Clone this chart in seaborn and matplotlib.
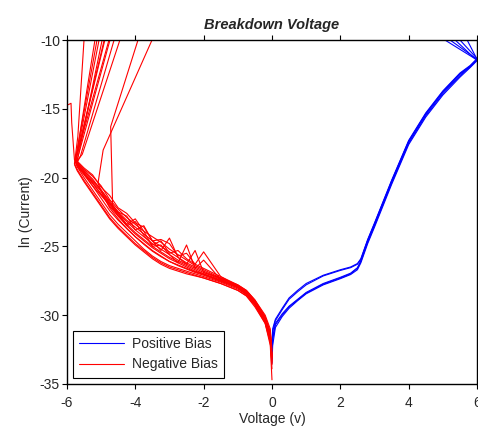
import numpy as np
import pandas as pd
import seaborn as sns
import matplotlib
matplotlib.use('Agg')
import matplotlib.pyplot as plt

# voltage grid of the negative sweep (V)
neg_v = [0, -0.05, -0.2, -0.5, -0.75, -1.0, -1.5, -2.0, -2.25, -2.5, -2.75, -3.0,
         -3.25, -3.5, -3.75, -4.0, -4.25, -4.5, -4.75, -5.0, -5.25, -5.5, -5.7]

# ln(current) of each negative trace on that grid
neg_i = [
    [-33.5, -31.8, -30.4, -29.2, -28.5, -28.1, -27.6, -27.2, -27.0, -26.8, -26.6, -26.4,
     -26.1, -25.7, -25.2, -24.6, -24.0, -23.4, -22.7, -21.8, -20.9, -20.0, -19.2],
    [-34.7, -32.2, -30.6, -29.3, -28.6, -28.2, -27.7, -27.3, -27.1, -26.9, -26.7, -26.5,
     -26.2, -25.8, -25.3, -24.8, -24.2, -23.6, -22.9, -22.0, -21.1, -20.2, -19.4],
    [-32.5, -31.0, -30.0, -28.9, -28.2, -27.8, -27.3, -26.7, -26.4, -26.0, -25.6, -25.2,
     -24.7, -24.3, -23.9, -23.4, -22.9, -22.3, -21.6, -20.6, -19.9, -19.4, -18.9],
    [-33.0, -31.4, -30.2, -29.0, -28.3, -27.9, -27.45, -27.0, -26.7, -26.4, -26.1, -25.8,
     -25.4, -25.0, -24.5, -24.0, -23.4, -22.8, -22.1, -21.2, -20.4, -19.7, -19.1],
    [-32.8, -31.2, -30.1, -28.9, -28.2, -27.8, -27.2, -26.6, -26.3, -25.5, -25.7, -24.8,
     -24.5, -24.6, -23.6, -23.3, -22.6, -22.2, -21.3, -20.7, -19.8, -19.3, -18.8],
    [-33.2, -31.5, -30.3, -29.0, -28.3, -27.9, -27.3, -26.9, -25.3, -26.3, -25.8, -24.4,
     -25.3, -24.6, -23.5, -23.8, -22.8, -22.5, -21.7, -20.9, -20.2, -19.5, -18.9],
    [-33.6, -31.9, -30.5, -29.2, -28.5, -28.0, -27.4, -26.0, -26.6, -24.9, -26.2, -25.6,
     -24.9, -25.0, -23.9, -23.0, -23.4, -22.6, -21.9, -21.2, -20.4, -19.7, -19.1],
    [-33.9, -32.0, -30.6, -29.4, -28.6, -28.2, -27.7, -27.3, -27.15, -27.0, -26.8, -26.6,
     -26.3, -25.9, -25.4, -24.9, -24.3, -23.7, -23.0, -22.1, -21.2, -20.3, -19.5],
    [-32.9, -31.3, -30.2, -28.95, -28.25, -27.85, -27.35, -26.8, -26.5, -26.2, -25.8, -25.4,
     -25.0, -24.6, -24.1, -23.6, -23.1, -22.5, -21.8, -20.9, -20.1, -19.5, -18.9],
    [-33.4, -31.6, -30.3, -29.1, -28.4, -28.0, -27.5, -27.0, -26.8, -26.5, -26.2, -25.9,
     -25.5, -25.1, -24.6, -24.1, -23.5, -22.8],
    [-33.1, -31.7, -30.5, -29.2, -28.5, -28.0, -27.5, -27.05, -26.85, -26.6, -26.35, -26.1,
     -25.75, -25.35, -24.85, -24.3, -23.7, -23.0, -22.2, -21.0],
    [-33.1, -31.5, -30.4, -29.1, -28.4, -28.0, -27.55, -27.1, -26.9, -26.65, -26.4, -26.1,
     -25.7, -25.3, -24.8, -24.3, -23.7, -23.1, -22.4, -21.5, -20.6, -19.7, -19.0],
    [-33.3, -31.6, -30.4, -29.1, -28.4, -27.9, -27.2, -25.4, -26.3, -25.9, -25.3, -25.5,
     -24.6, -24.9, -24.2, -23.2, -23.5, -22.7, -22.0, -21.3, -20.6, -19.8, -19.2],
    [-33.0, -31.4, -30.3, -29.0, -28.35, -27.95, -27.4, -26.9, -26.6, -26.3, -26.0, -25.6,
     -25.2, -24.8, -24.3, -23.8, -23.2, -22.6, -21.9, -21.0, -20.3, -19.6, -19.0],
]

# where each negative trace turns back up to the top (V, ln I)
neg_tail = [
    [(-5.76, -18.8), (-5.12, -10)],
    [(-5.78, -19.0), (-5.68, -17.0), (-5.5, -10)],
    [(-5.72, -18.5), (-4.77, -10)],
    [(-5.74, -18.7), (-4.91, -10)],
    [(-5.55, -18.3), (-4.45, -10)],
    [(-5.73, -18.5), (-5.18, -10)],
    [(-5.74, -18.7), (-4.89, -10)],
    [(-5.77, -19.1), (-5.06, -10)],
    [(-5.6, -18.4), (-4.62, -10)],
    [(-4.66, -22.2), (-4.72, -16.3), (-3.92, -10)],
    [(-5.09, -20.4), (-4.94, -18.0), (-3.51, -10)],
    [(-5.78, -18.7), (-5.86, -16.0), (-5.88, -14.6), (-5.96, -14.7)],
    [(-5.7, -18.8), (-4.97, -10)],
    [(-5.69, -18.6), (-4.74, -10)],
]

# voltage grid of the positive sweep (V)
pos_v = [0, 0.02, 0.1, 0.3, 0.5, 0.75, 1.0, 1.5, 2.0, 2.3, 2.5, 2.6, 2.8, 3.0,
         3.5, 4.0, 4.5, 5.0, 5.5, 5.8, 6.0]

pos_i = [
    [-33.2, -31.8, -30.7, -30.0, -29.4, -28.9, -28.4, -27.75, -27.3, -27.0, -26.6, -26.1,
     -24.7, -23.5, -20.4, -17.5, -15.5, -13.9, -12.6, -11.95, -11.45],
    [-32.8, -31.6, -30.6, -29.9, -29.35, -28.85, -28.35, -27.7, -27.25, -26.95, -26.55, -26.05,
     -24.6, -23.4, -20.3, -17.4, -15.4, -13.8, -12.5, -11.9, -11.4],
    [-33.5, -32.2, -30.9, -30.1, -29.5, -28.95, -28.45, -27.8, -27.35, -27.05, -26.7, -26.2,
     -24.8, -23.6, -20.5, -17.6, -15.6, -14.0, -12.7, -12.0, -11.5],
    [-32.3, -31.0, -30.3, -29.5, -28.75, -28.2, -27.7, -27.1, -26.7, -26.5, -26.25, -25.9,
     -24.5, -23.3, -20.2, -17.3, -15.3, -13.7, -12.4, -11.85, -11.35],
    [-32.6, -31.2, -30.4, -29.6, -28.85, -28.3, -27.8, -27.15, -26.75, -26.55, -26.3, -25.95,
     -24.55, -23.35, -20.25, -17.35, -15.35, -13.75, -12.45, -11.9, -11.4],
]

pos_tail = [
    [(5.06, -10)],
    [(5.21, -10)],
    [(5.36, -10)],
    [(5.5, -10)],
    [(5.71, -10)],
]

rows = []
tid = 0
for vs, cur_list, tails, name in [(pos_v, pos_i, pos_tail, 'Positive Bias'),
                                  (neg_v, neg_i, neg_tail, 'Negative Bias')]:
    for cur, tail in zip(cur_list, tails):
        pts = list(zip(vs, cur)) + tail
        for k, (v, c) in enumerate(pts):
            rows.append({'trace': tid, 'order': k, 'Voltage': v, 'lnI': c, 'bias': name})
        tid += 1
df = pd.DataFrame(rows)

sns.set_style('ticks')
plt.rcParams['font.family'] = ['Liberation Sans', 'DejaVu Sans']
plt.rcParams['axes.unicode_minus'] = False

fig = plt.figure(figsize=(4.78, 4.28), dpi=100)
ax = fig.add_axes([0.140, 0.103, 0.858, 0.8035])

sns.lineplot(data=df, x='Voltage', y='lnI', hue='bias', units='trace', estimator=None,
             sort=False, palette={'Positive Bias': '#0000ff', 'Negative Bias': '#ff0000'},
             hue_order=['Positive Bias', 'Negative Bias'], lw=0.8, ax=ax)

ax.set_xlim(-6, 6)
ax.set_ylim(-35, -10)
ax.set_xticks([-6, -4, -2, 0, 2, 4, 6])
ax.set_yticks([-35, -30, -25, -20, -15, -10])
ax.set_xlabel('Voltage (v)', fontsize=10, labelpad=2)
ax.set_ylabel('ln (Current)', fontsize=10, labelpad=5)
ax.set_title('Breakdown Voltage', fontsize=10.5, fontweight='bold', style='italic', pad=8)
ax.tick_params(axis='both', labelsize=10, direction='out', length=3.5, width=0.8,
               color='black')
ax.tick_params(axis='x', top=True, pad=5)
ax.tick_params(axis='y', pad=1.5)
for s in ax.spines.values():
    s.set_visible(True)
    s.set_color('black')
    s.set_linewidth(1.0)

handles, labels = ax.get_legend_handles_labels()
ax.legend(handles, labels, loc='lower left', fontsize=10, frameon=True, fancybox=False,
          edgecolor='black', framealpha=1, handlelength=3.2, borderaxespad=0.45,
          labelspacing=0.45, borderpad=0.45, handletextpad=0.6)
ax.get_legend().get_frame().set_linewidth(0.8)

fig.savefig('out.png', dpi=100)
